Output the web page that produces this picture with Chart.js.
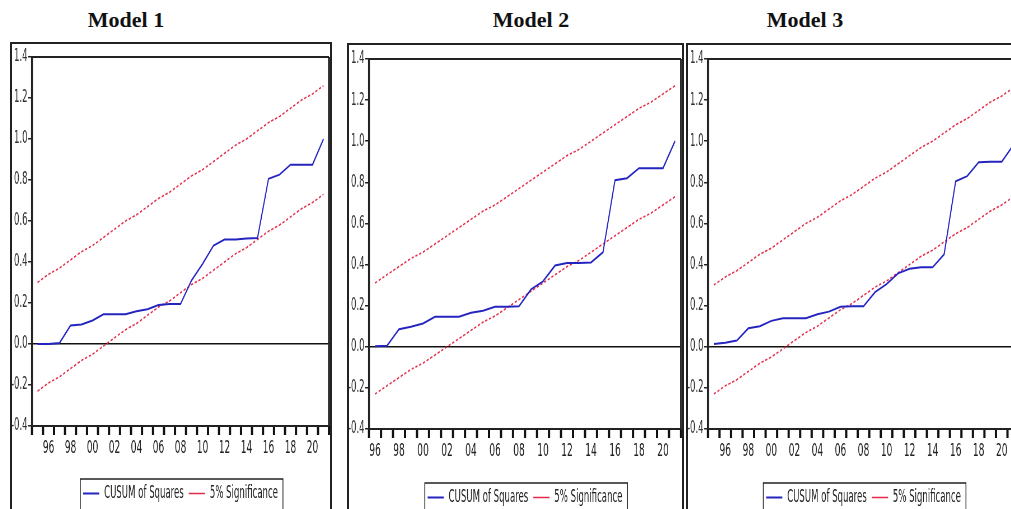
<!DOCTYPE html>
<html>
<head>
<meta charset="utf-8">
<script src="https://cdn.jsdelivr.net/npm/chart.js@4.4.1/dist/chart.umd.min.js"></script>
<style>
html, body { margin: 0; padding: 0; background: #fff; overflow: hidden; width: 1011px; height: 509px; }
.title { position: absolute; top: 9px; width: 160px; margin-left: -80px; text-align: center;
         font: bold 22px "Liberation Serif", "Times New Roman", serif; line-height: 22px; color: #111; }
.frame { position: absolute; border: 2px solid #222; box-sizing: border-box; height: 520px; }
canvas { position: absolute; transform-origin: 0 0; }
</style>
</head>
<body>
<div class="title" style="left:126px">Model 1</div>
<div class="title" style="left:531px">Model 2</div>
<div class="title" style="left:805px">Model 3</div>
<div class="frame" style="left:10px;top:42px;width:322px"></div>
<div class="frame" style="left:347px;top:43px;width:337px"></div>
<div class="frame" style="left:686px;top:43px;width:400px"></div>
<canvas id="c1"></canvas>
<canvas id="c2"></canvas>
<canvas id="c3"></canvas>
<script>
// years on the x axis
const years95 = ['1995','1996','1997','1998','1999','2000','2001','2002','2003','2004','2005','2006','2007','2008',
                 '2009','2010','2011','2012','2013','2014','2015','2016','2017','2018','2019','2020','2021'];
const years96 = ['1996','1997','1998','1999','2000','2001','2002','2003','2004','2005','2006','2007','2008',
                 '2009','2010','2011','2012','2013','2014','2015','2016','2017','2018','2019','2020','2021'];

// CUSUM of squares
const cusum1 = [0.00, 0.00, 0.005, 0.09, 0.095, 0.115, 0.145, 0.145, 0.145, 0.16, 0.17, 0.19, 0.195, 0.195,
                0.31, 0.39, 0.48, 0.51, 0.51, 0.515, 0.517, 0.806, 0.826, 0.875, 0.875, 0.875, 1.0];
const cusum2 = [0.003, 0.005, 0.085, 0.097, 0.113, 0.146, 0.146, 0.146, 0.165, 0.175, 0.195, 0.195, 0.197,
                0.279, 0.318, 0.395, 0.408, 0.408, 0.41, 0.46, 0.81, 0.82, 0.869, 0.869, 0.869, 1.0];
const cusum3 = [0.013, 0.02, 0.03, 0.09, 0.10, 0.126, 0.139, 0.139, 0.139, 0.158, 0.171, 0.195, 0.197, 0.197,
                0.266, 0.305, 0.357, 0.38, 0.387, 0.387, 0.45, 0.805, 0.83, 0.898, 0.9, 0.9, 0.98];

// 5% significance bands
const upper95 = [0.30, 0.34, 0.37, 0.41, 0.45, 0.48, 0.52, 0.56, 0.60, 0.63, 0.67, 0.71, 0.74, 0.78,
                 0.82, 0.85, 0.89, 0.93, 0.97, 1.00, 1.04, 1.08, 1.11, 1.15, 1.19, 1.22, 1.26];
const lower95 = [-0.23, -0.19, -0.16, -0.12, -0.08, -0.05, -0.01, 0.03, 0.07, 0.10, 0.14, 0.18, 0.21, 0.25,
                 0.29, 0.32, 0.36, 0.40, 0.44, 0.47, 0.51, 0.55, 0.58, 0.62, 0.66, 0.69, 0.73];
const upper96 = [0.31, 0.35, 0.39, 0.43, 0.46, 0.50, 0.54, 0.58, 0.62, 0.66, 0.69, 0.73, 0.77,
                 0.81, 0.85, 0.89, 0.93, 0.96, 1.00, 1.04, 1.08, 1.12, 1.16, 1.19, 1.23, 1.27];
const lower96 = [-0.23, -0.19, -0.15, -0.11, -0.08, -0.04, 0.00, 0.04, 0.08, 0.12, 0.15, 0.19, 0.23,
                 0.27, 0.31, 0.35, 0.39, 0.42, 0.46, 0.50, 0.54, 0.58, 0.62, 0.65, 0.69, 0.73];

// the eviews graphs are squeezed sideways, so draw wide and squeeze the canvas
const SX = 0.56;
const FONT = "'Liberation Sans Narrow', 'DejaVu Sans Condensed', 'Arial Narrow', sans-serif";
const LEG_FONT = 17, LEG_PAD = 9;

const plotFrame = {
    id: 'plotFrame',
    afterDraw(chart) {
        const ctx = chart.ctx, a = chart.chartArea, xs = chart.scales.x;
        const n = chart.data.labels.length;
        ctx.save();
        ctx.setLineDash([]);
        // year tick marks on the category boundaries
        ctx.fillStyle = '#111';
        for (let i = 0; i <= n; i++) {
            const x = i < n ? xs.getPixelForTick(i) - (xs.getPixelForTick(1) - xs.getPixelForTick(0)) / 2 : a.right;
            ctx.fillRect(x - 2, a.bottom, 4, 9);
        }
        ctx.strokeStyle = '#222';
        ctx.lineWidth = 2;
        ctx.beginPath();
        ctx.moveTo(a.left, a.top); ctx.lineTo(a.right, a.top);
        ctx.moveTo(a.left, a.bottom); ctx.lineTo(a.right, a.bottom);
        ctx.stroke();
        ctx.lineWidth = 2 / SX;
        ctx.beginPath();
        ctx.moveTo(a.left, a.top); ctx.lineTo(a.left, a.bottom);
        ctx.moveTo(a.right, a.top); ctx.lineTo(a.right, a.bottom);
        ctx.stroke();
        // box round the legend
        const lg = chart.legend, hb = lg.legendHitBoxes;
        const l = Math.min(...hb.map(h => h.left)) - 5;
        const r = Math.max(...hb.map(h => h.left + h.width)) + 9;
        const t = lg.top + 3;
        ctx.lineWidth = 1.5;
        ctx.beginPath();
        ctx.moveTo(l, chart.height); ctx.lineTo(l, t); ctx.lineTo(r, t); ctx.lineTo(r, chart.height);
        ctx.stroke();
        ctx.restore();
    }
};

function makePanel(p) {
    const canvas = document.getElementById(p.id);
    const W = Math.round(p.visWidth / SX);
    const H = 520 - p.top;
    canvas.width = W;
    canvas.height = H;
    canvas.style.left = p.left + 'px';
    canvas.style.top = p.top + 'px';
    canvas.style.transform = 'scaleX(' + SX + ')';

    const yWidth = (p.plotLeft - p.left) / SX;
    const padRight = W - (p.plotRight - p.left) / SX;
    const padTop = p.plotTop - p.top;
    const xHeight = p.legendTop - p.plotBottom;
    const legendH = LEG_FONT + LEG_PAD + 10;
    const padBottom = H - (p.plotBottom - p.top) - xHeight - legendH;

    return new Chart(canvas.getContext('2d'), {
        type: 'line',
        data: {
            labels: p.labels,
            datasets: [{
                label: 'CUSUM of Squares',
                data: p.cusum,
                borderColor: '#2424c0',
                borderWidth: 2,
                pointRadius: 0,
                tension: 0
            }, {
                label: '5% Significance',
                data: p.upper,
                borderColor: '#e42a48',
                borderWidth: 1.6,
                borderDash: [4, 3],
                pointRadius: 0,
                tension: 0
            }, {
                label: '5% Significance',
                data: p.lower,
                borderColor: '#e42a48',
                borderWidth: 1.6,
                borderDash: [4, 3],
                pointRadius: 0,
                tension: 0
            }]
        },
        options: {
            responsive: false,
            animation: false,
            layout: { padding: { left: 0, top: padTop, right: padRight, bottom: padBottom } },
            plugins: {
                tooltip: { enabled: false },
                legend: {
                    position: 'bottom',
                    fullSize: false,
                    labels: {
                        usePointStyle: true,
                        pointStyle: 'line',
                        pointStyleWidth: 29,
                        padding: LEG_PAD,
                        color: '#222',
                        font: { family: FONT, size: LEG_FONT },
                        filter: item => item.datasetIndex < 2
                    }
                }
            },
            scales: {
                x: {
                    type: 'category',
                    offset: true,
                    afterFit: s => { s.height = xHeight; },
                    border: { display: false },
                    grid: { display: false, tickLength: 10 },
                    ticks: {
                        autoSkip: false,
                        maxRotation: 0,
                        padding: 2,
                        color: '#222',
                        font: { family: FONT, size: 18 },
                        callback: function (v) {
                            const y = String(this.getLabelForValue(v));
                            return (Number(y) % 2 === 0) ? y.slice(2) : '';
                        }
                    }
                },
                y: {
                    min: -0.4,
                    max: 1.4,
                    afterFit: s => { s.width = yWidth; },
                    border: { display: false },
                    grid: {
                        tickLength: 7,
                        tickWidth: 1.5,
                        tickColor: '#222',
                        lineWidth: 1.5,
                        color: c => (c.tick && Math.abs(c.tick.value) < 1e-9) ? '#111' : 'rgba(0,0,0,0)'
                    },
                    ticks: {
                        stepSize: 0.2,
                        padding: 1,
                        color: '#333',
                        font: { family: FONT, size: 17 },
                        callback: v => Math.abs(v) < 1e-9 ? '0.0' : v.toFixed(1)
                    }
                }
            }
        },
        plugins: [plotFrame]
    });
}

makePanel({ id: 'c1', left: 12, top: 44, visWidth: 319, plotLeft: 32, plotRight: 329, plotTop: 57, plotBottom: 426,
            legendTop: 476, labels: years95, cusum: cusum1, upper: upper95, lower: lower95 });
makePanel({ id: 'c2', left: 349, top: 45, visWidth: 334, plotLeft: 369, plotRight: 681, plotTop: 59, plotBottom: 429,
            legendTop: 480, labels: years96, cusum: cusum2, upper: upper96, lower: lower96 });
makePanel({ id: 'c3', left: 688, top: 45, visWidth: 334, plotLeft: 708, plotRight: 1019, plotTop: 59, plotBottom: 429,
            legendTop: 480, labels: years95, cusum: cusum3, upper: upper95, lower: lower95 });
</script>
</body>
</html>
